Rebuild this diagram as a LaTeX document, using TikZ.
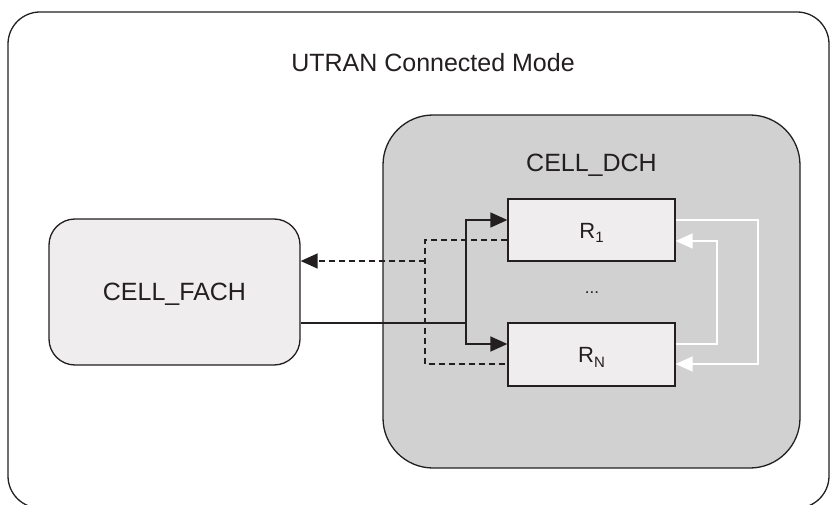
\documentclass[tikz,border=0pt]{standalone}
\usepackage{fontspec}
\setmainfont{Liberation Sans}
\usetikzlibrary{arrows.meta}
\definecolor{ink}{HTML}{231F20}
\definecolor{dchfill}{HTML}{D1D1D1}
\definecolor{boxfill}{HTML}{EFEDEE}
\tikzset{
  x=1pt, y=-1pt,
  frame/.style={draw=ink, line width=1.3pt, inner sep=0pt},
  bigtxt/.style={text=ink, inner sep=0pt, anchor=base, font=\fontsize{25}{30}\selectfont},
  rtxt/.style={text=ink, inner sep=0pt, anchor=base, font=\fontsize{22}{26}\selectfont},
  link/.style={draw=ink, line width=1.5pt},
  dlink/.style={draw=ink, line width=1.5pt, dash pattern=on 6pt off 4pt},
  wlink/.style={draw=white, line width=1.5pt},
  tip/.style={-{Triangle[length=17pt,width=15pt]}},
}
\newcommand{\rsub}[1]{R\raisebox{-0.22em}{\fontsize{15}{15}\selectfont #1}}
\begin{document}
\begin{tikzpicture}
\useasboundingbox (0,0) rectangle (832,505);
\fill[white] (0,0) rectangle (832,505);
% outer box
\draw[draw=ink, line width=1.3pt, rounded corners=32pt] (8,12) rectangle (829,508);
\node[bigtxt] (utran) at (433,72) {UTRAN Connected Mode};
% CELL_DCH
\draw[draw=ink, fill=dchfill, line width=1.3pt, rounded corners=50pt] (383,115) rectangle (800,468);
\node[bigtxt] (dchlbl) at (591.5,172) {CELL\_DCH};
% CELL_FACH
\node[frame, fill=boxfill, rounded corners=26pt, minimum width=251pt, minimum height=146pt] (fach) at (174.5,292) {};
\node[bigtxt] (fachlbl) at (174.5,300) {CELL\_FACH};
% R boxes
\node[frame, fill=boxfill, minimum width=167pt, minimum height=62pt] (r1) at (591.5,230) {};
\node[frame, fill=boxfill, minimum width=167pt, minimum height=63pt] (rn) at (591.5,354.5) {};
\node[rtxt] (r1lbl) at (591.5,238) {\rsub{1}};
\node[rtxt] (rnlbl) at (591.5,362.5) {\rsub{N}};
\node[text=ink, inner sep=0pt, anchor=base, font=\fontsize{17}{20}\selectfont] (dots) at (592,293) {...};
% solid connectors
\coordinate (j) at (466,323);
\draw[link] (fach.east |- j) -- (j);
\draw[link, tip] (j) |- ([yshift=10pt]r1.west);
\draw[link, tip] (j) |- ([yshift=10.5pt]rn.west);
% dashed connectors
\coordinate (dt) at (425,261);
\coordinate (db) at (425,364);
\draw[dlink] ([yshift=-10pt]r1.west) -| (db) -- (rn.west |- db);
\draw[dlink, tip] (dt) -- (fach.east |- dt);
% white loops
\coordinate (wo) at (758,364);
\coordinate (wi) at (717,241);
\draw[wlink, tip] ([yshift=10pt]r1.east) -| (wo) -- (rn.east |- wo);
\draw[wlink, tip] ([yshift=10.5pt]rn.east) -| (wi) -- (r1.east |- wi);
\end{tikzpicture}
\end{document}
